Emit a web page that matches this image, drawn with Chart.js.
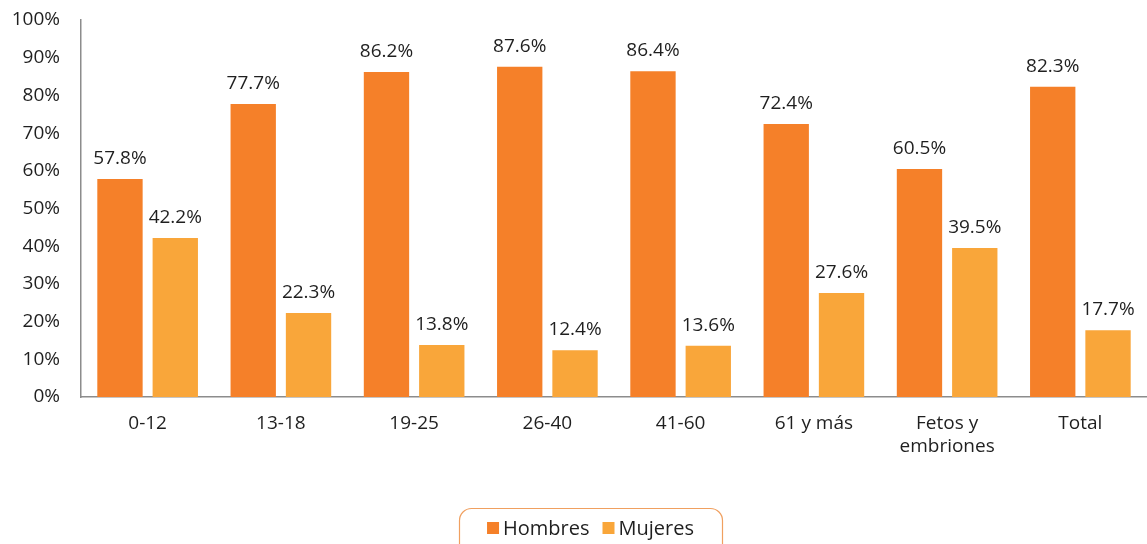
<!DOCTYPE html>
<html>
<head>
<meta charset="utf-8">
<script src="https://cdn.jsdelivr.net/npm/chart.js@4"></script>
<style>
  html, body { margin: 0; padding: 0; background: #fff; }
  #wrap { width: 1147px; height: 544px; }
</style>
</head>
<body>
<div id="wrap"><canvas id="myChart" width="1147" height="544"></canvas></div>
<script>
var categories = ['0-12', '13-18', '19-25', '26-40', '41-60', '61 y más', ['Fetos y', 'embriones'], 'Total'];
var hombres = [57.8, 77.7, 86.2, 87.6, 86.4, 72.4, 60.5, 82.3];
var mujeres = [42.2, 22.3, 13.8, 12.4, 13.6, 27.6, 39.5, 17.7];
var yTicks = [0, 10, 20, 30, 40, 50, 60, 70, 80, 90, 100];

var FONT = "'Open Sans', sans-serif";
var TEXT = '#1f1f1f';

// value labels above each bar
var barLabels = {
    id: 'barLabels',
    afterDatasetsDraw: function(chart) {
        var ctx = chart.ctx;
        ctx.save();
        ctx.font = '19px ' + FONT;
        ctx.fillStyle = TEXT;
        ctx.textAlign = 'center';
        ctx.textBaseline = 'alphabetic';
        chart.data.datasets.forEach(function(ds, i) {
            chart.getDatasetMeta(i).data.forEach(function(bar, j) {
                ctx.fillText(ds.data[j].toFixed(1) + '%', bar.x, bar.y - 15);
            });
        });
        ctx.restore();
    }
};

// legend drawn by hand, with a rounded orange frame
var boxLegend = {
    id: 'boxLegend',
    afterDraw: function(chart) {
        var ctx = chart.ctx;
        ctx.save();
        ctx.font = '20px ' + FONT;
        var items = chart.data.datasets.map(function(ds) {
            return { text: ds.label, color: ds.backgroundColor, w: ctx.measureText(ds.label).width };
        });
        var box = 12, gapIn = 4, gapOut = 13;
        var total = 0;
        items.forEach(function(it, i) { total += box + gapIn + it.w + (i ? gapOut : 0); });
        var x = chart.width / 2 - total / 2 + 17;
        var cy = 528;

        ctx.strokeStyle = '#f0a060';
        ctx.lineWidth = 1.2;
        ctx.beginPath();
        ctx.roundRect(459.5, 508.5, 263, 60, 12);
        ctx.stroke();

        ctx.textBaseline = 'middle';
        ctx.textAlign = 'left';
        items.forEach(function(it) {
            ctx.fillStyle = it.color;
            ctx.fillRect(x, cy - 6, box, box);
            x += box + gapIn;
            ctx.fillStyle = TEXT;
            ctx.fillText(it.text, x, cy + 1);
            x += it.w + gapOut;
        });
        ctx.restore();
    }
};

var ctx = document.getElementById('myChart').getContext('2d');
var myChart = new Chart(ctx, {
    type: 'bar',
    data: {
        labels: categories,
        datasets: [{
            label: 'Hombres',
            data: hombres,
            backgroundColor: '#f58029',
            barPercentage: 0.82,
            categoryPercentage: 0.83
        }, {
            label: 'Mujeres',
            data: mujeres,
            backgroundColor: '#f9a63a',
            barPercentage: 0.82,
            categoryPercentage: 0.83
        }]
    },
    options: {
        responsive: false,
        animation: false,
        layout: { padding: { top: 20, bottom: 50, left: 0, right: 0 } },
        plugins: {
            legend: { display: false },
            tooltip: { enabled: false }
        },
        scales: {
            x: {
                grid: { display: false, drawTicks: false },
                border: { color: '#8c8c8c', width: 1.5 },
                ticks: { color: TEXT, font: { family: FONT, size: 19 }, padding: 15, maxRotation: 0 },
                afterFit: function(s) { s.height = 97; s.paddingLeft = 0; s.paddingRight = 0; }
            },
            y: {
                min: 0,
                max: 100,
                grid: { display: false, drawTicks: false },
                border: { color: '#8c8c8c', width: 1.5 },
                afterBuildTicks: function(s) { s.ticks = yTicks.map(function(v) { return { value: v }; }); },
                ticks: {
                    color: TEXT,
                    font: { family: FONT, size: 19 },
                    padding: 21,
                    callback: function(v) { return v + '%'; }
                },
                afterFit: function(s) { s.width = 81; s.paddingTop = 0; s.paddingBottom = 0; }
            }
        }
    },
    plugins: [barLabels, boxLegend]
});
</script>
</body>
</html>
